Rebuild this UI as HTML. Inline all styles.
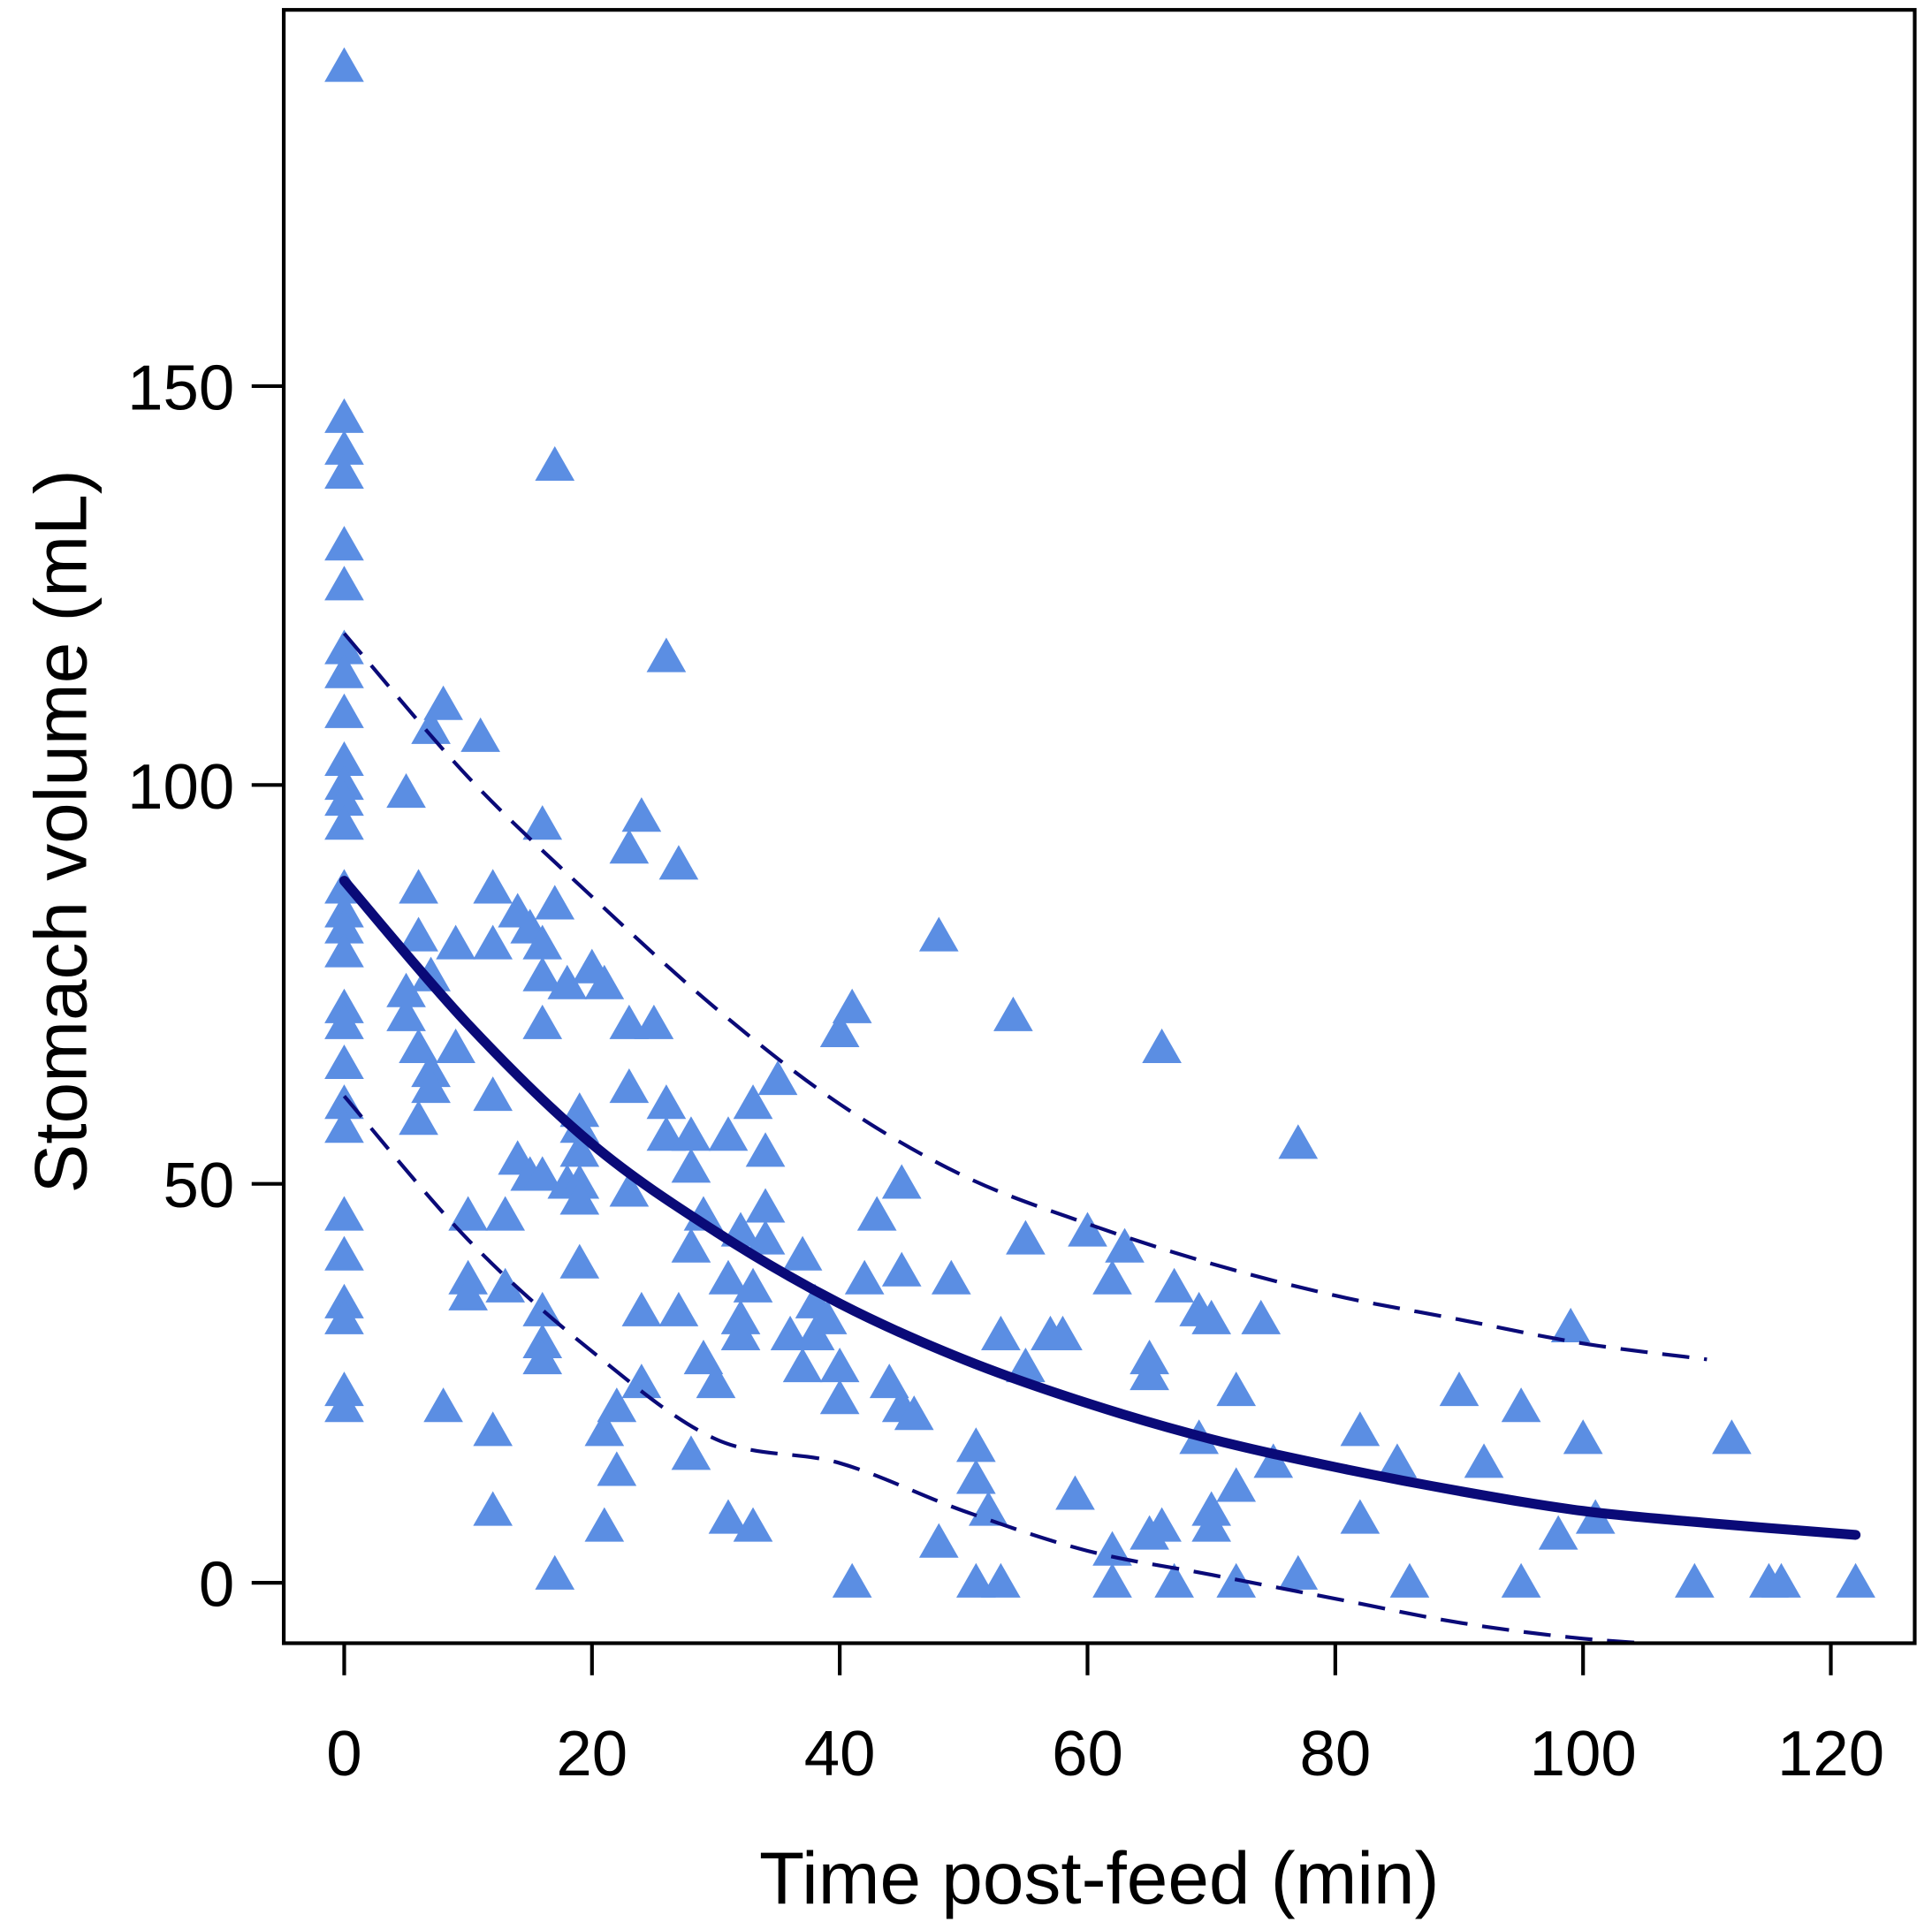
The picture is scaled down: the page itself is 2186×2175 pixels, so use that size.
<!DOCTYPE html>
<html><head><meta charset="utf-8"><style>html,body{margin:0;padding:0;background:#fff}svg{display:block}</style></head>
<body>
<svg id="chart" width="2186" height="2175" viewBox="0 0 1566 1558" preserveAspectRatio="none" xmlns="http://www.w3.org/2000/svg" font-family="Liberation Sans, Arial, sans-serif">
<defs><clipPath id="plotclip"><rect x="230" y="8" width="1322" height="1324"/></clipPath></defs>
<g id="points" clip-path="url(#plotclip)"></g>
<g id="lines" clip-path="url(#plotclip)"></g>
<rect x="230" y="8" width="1322" height="1324" fill="none" stroke="#000" stroke-width="3"/>
<g id="axes"></g>
<text x="891" y="1543" font-size="60" text-anchor="middle">Time post-feed (min)</text>
<text transform="translate(70,674) rotate(-90)" font-size="60" text-anchor="middle">Stomach volume (mL)</text>
</svg>
<script>
const xTicks=[0,20,40,60,80,100,120];
const yTicks=[0,50,100,150];
const ptTime=[0,0,0,0,0,0,0,0,0,0,0,0,0,0,0,0,0,0,0,0,0,0,0,0,0,0,0,0,
5,5,5,6,6,6,6,7,7,7,7,8,8,9,9,10,10,10,11,12,12,12,12,12,13,13,14,14,15,15,16,16,16,16,16,16,16,16,17,17,17,18,18,19,19,19,19,19,19,20,21,21,21,22,22,23,23,23,23,24,24,24,25,26,26,26,27,27,28,28,28,28,29,29,30,31,31,31,32,32,32,33,33,33,34,34,34,35,36,37,37,38,38,39,40,40,40,41,41,42,43,44,45,45,45,46,48,48,49,51,51,51,52,53,53,54,55,55,57,58,59,60,62,62,62,63,65,65,65,66,66,67,67,69,69,70,70,70,72,72,72,74,75,77,77,82,82,85,86,90,92,95,95,98,99,100,101,109,112,115,116,122];
const ptVolume=[190,146,142,139,130,125,117,114,109,103,100,98,95,87,84,82,79,72,70,65,60,57,46,41,35,33,24,22,
99,74,71,87,81,67,58,107,76,64,62,110,22,80,67,46,38,36,106,87,80,61,19,9,46,37,84,53,82,51,95,80,76,70,51,34,30,28,140,85,1,75,50,59,57,54,50,48,40,77,75,19,7,22,14,92,70,62,49,96,34,25,70,116,60,56,90,34,56,52,42,16,46,28,25,56,38,8,44,33,31,60,37,7,54,47,43,63,31,41,27,35,31,33,69,27,23,72,0,38,46,25,22,39,50,21,81,5,38,17,13,0,9,31,0,71,43,27,31,31,11,44,38,4,0,42,28,26,6,67,7,37,0,34,18,33,9,7,24,12,0,33,15,55,1,19,8,15,0,24,15,22,0,6,32,18,8,0,18,0,0,0];
const fitTime=[0,10,20,30,40,50,60,70,80,90,100,110,122];
const fitMean=[88,70,55,44,35,28,22.5,18,14.5,11.5,9,7.5,6];
const bandTime=[0,10,20,30,40,50,60,70,80,90,100,110];
const bandUpper=[119,101,86,72,60,51,45,40,36,33,30,28];
const bandLower=[61,43,29,18,15,9,4,1,-2,-5,-7,-8];

const NS='http://www.w3.org/2000/svg';
const xS=t=>279+t*(1484-279)/120;
const yS=v=>1283-v*(1283-313)/150;
function mk(tag,attrs,parent){const e=document.createElementNS(NS,tag);for(const k in attrs)e.setAttribute(k,attrs[k]);parent.appendChild(e);return e;}
const axes=document.getElementById('axes');
xTicks.forEach(t=>{
  const l=mk('line',{x1:xS(t),x2:xS(t),y1:1332,y2:1358,stroke:'#000','stroke-width':3},axes);
  
  
  const tx=mk('text',{x:xS(t),y:1439,'font-size':52,'text-anchor':'middle'},axes);tx.textContent=t;
  
  
});
yTicks.forEach(v=>{
  const l=mk('line',{x1:204,x2:230,y1:yS(v),y2:yS(v),stroke:'#000','stroke-width':3},axes);
  
  
  const tx=mk('text',{x:190,y:yS(v)+19,'font-size':52,'text-anchor':'end'},axes);tx.textContent=v;
  
  
});
const pts=document.getElementById('points');
ptTime.forEach((t,i)=>{
  const cx=xS(t),cy=yS(ptVolume[i]);
  const p=mk('polygon',{points:`${cx},${cy-16} ${cx-16},${cy+12} ${cx+16},${cy+12}`,fill:'#5b8ee3'},pts);
  
  
});
function smooth(xs,ys){
  const P=xs.map((x,i)=>[xS(x),yS(ys[i])]);
  let d=`M${P[0][0]},${P[0][1]}`;
  for(let i=0;i<P.length-1;i++){
    const p0=P[Math.max(0,i-1)],p1=P[i],p2=P[i+1],p3=P[Math.min(P.length-1,i+2)];
    const c1=[p1[0]+(p2[0]-p0[0])/6,p1[1]+(p2[1]-p0[1])/6];
    const c2=[p2[0]-(p3[0]-p1[0])/6,p2[1]-(p3[1]-p1[1])/6];
    d+=` C${c1[0]},${c1[1]} ${c2[0]},${c2[1]} ${p2[0]},${p2[1]}`;
  }
  return d;
}
const lines=document.getElementById('lines');
const up=mk('path',{d:smooth(bandTime,bandUpper),fill:'none',stroke:'#0a0a78','stroke-width':3,'stroke-dasharray':'22,12'},lines);


const lo=mk('path',{d:smooth(bandTime,bandLower),fill:'none',stroke:'#0a0a78','stroke-width':3,'stroke-dasharray':'22,12'},lines);


const mean=mk('path',{d:smooth(fitTime,fitMean),fill:'none',stroke:'#0a0a78','stroke-width':8,'stroke-linecap':'round'},lines);


</script>
</body></html>
